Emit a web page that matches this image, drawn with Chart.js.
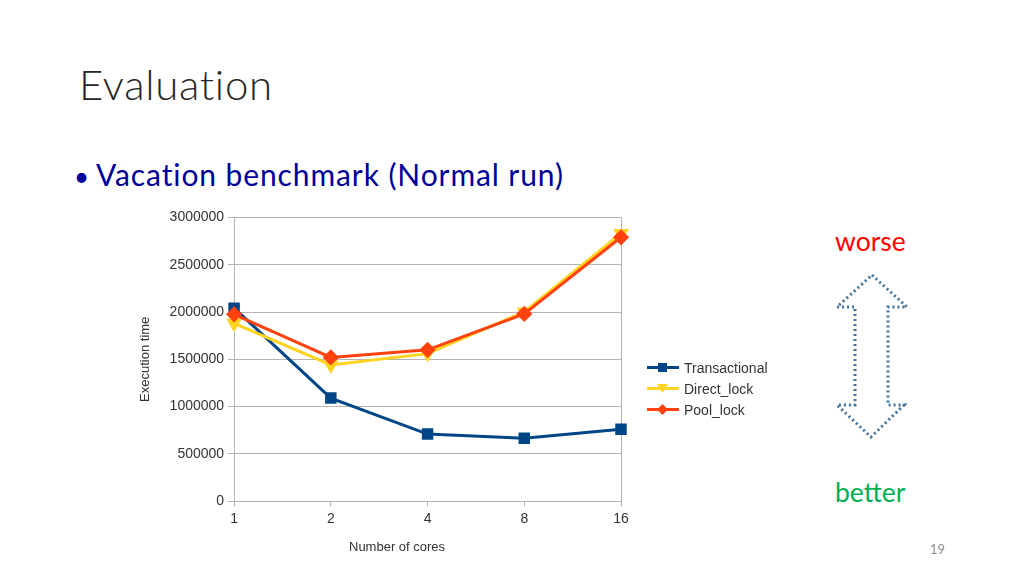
<!DOCTYPE html>
<html>
<head>
<meta charset="utf-8">
<script src="https://cdn.jsdelivr.net/npm/chart.js@4"></script>
<style>
  html, body { margin:0; padding:0; background:#fff; }
  body { width:1024px; height:576px; position:relative; overflow:hidden; font-family:'Lato','Open Sans',sans-serif; }
  #title { position:absolute; left:79px; top:59px; font-size:42px; font-weight:300; color:#262626; letter-spacing:0.7px; }
  #bullet { position:absolute; left:74px; top:156px; font-size:30px; color:#000099; letter-spacing:0.9px; }
  #bullet .dot { margin-right:6px; font-size:26px; }
  #chartBox { position:absolute; left:130px; top:205px; width:520px; height:355px; }
  #xTitle { position:absolute; left:349px; top:539px; font-family:'Liberation Sans',Arial,sans-serif; font-size:13px; color:#333; }
  #legend { position:absolute; left:646px; top:357px; font-family:'Liberation Sans',Arial,sans-serif; font-size:14px; color:#333; }
  #legend .row { height:21px; display:flex; align-items:center; }
  #legend svg { margin-right:4px; }
  #worse { position:absolute; left:835px; top:225px; font-size:26.5px; color:#ff0000; }
  #better { position:absolute; left:835px; top:476px; font-size:26.5px; color:#00b050; }
  #page { position:absolute; left:930px; top:541px; font-size:13px; color:#8c8c8c; }
  #arrow { position:absolute; left:0; top:0; }
</style>
</head>
<body>
<div id="title">Evaluation</div>
<div id="bullet"><span class="dot">•</span>Vacation benchmark (Normal run)</div>
<div id="chartBox"><canvas id="chart"></canvas></div>
<div id="xTitle">Number of cores</div>
<div id="legend"></div>
<div id="worse">worse</div>
<div id="better">better</div>
<div id="page">19</div>
<svg id="arrow" width="1024" height="576">
  <polygon points="872,275 907,307 888,307 888,405 904,405 871,437 837,405 855,405 855,307 837,307"
    fill="none" stroke="#41719c" stroke-width="3" stroke-dasharray="2 3"/>
</svg>
<script>
/* ====== データ ====== */
const categories = ['1', '2', '4', '8', '16'];
const transactional = [2040000, 1090000, 710000, 665000, 760000];
const directLock = [1880000, 1440000, 1560000, 2000000, 2830000];
const poolLock = [1975000, 1520000, 1600000, 1980000, 2790000];
const yTicks = [0, 500000, 1000000, 1500000, 2000000, 2500000, 3000000];

const seriesDefs = [
  { label:'Transactional', data:transactional, color:'#004586', pointStyle:'rect', rotation:0, radius:6, order:2 },
  { label:'Direct_lock', data:directLock, color:'#ffd320', pointStyle:'triangle', rotation:180, radius:6, order:1 },
  { label:'Pool_lock', data:poolLock, color:'#ff420e', pointStyle:'rectRot', rotation:0, radius:6, order:0 }
];

Chart.defaults.font.family = "'Liberation Sans', Arial, sans-serif";
Chart.defaults.font.size = 13;
Chart.defaults.color = '#333';

new Chart(document.getElementById('chart').getContext('2d'), {
  type:'line',
  data:{
    labels:categories,
    datasets:seriesDefs.map(s=>({
      label:s.label, data:s.data, order:s.order,
      borderColor:s.color, backgroundColor:s.color,
      borderWidth:3, pointStyle:s.pointStyle, rotation:s.rotation,
      pointRadius:s.radius, pointHoverRadius:s.radius, tension:0
    }))
  },
  options:{
    responsive:true, maintainAspectRatio:false, animation:false,
    layout:{ padding:{ top:4, right:29, left:4, bottom:27 } },
    plugins:{ legend:{ display:false }, tooltip:{ enabled:false } },
    scales:{
      x:{
        type:'category', offset:false,
        grid:{
          color:(c)=> (c.index === categories.length-1) ? '#b3b3b3' : 'rgba(0,0,0,0)',
          tickColor:'#b3b3b3', tickLength:5, drawOnChartArea:true
        },
        border:{ color:'#b3b3b3' },
        ticks:{ font:{ size:14 }, color:'#333', padding:5 },
        title:{ display:false }
      },
      y:{
        min:0, max:3000000,
        afterBuildTicks:(axis)=>{ axis.ticks = yTicks.map(v=>({ value:v })); },
        grid:{ color:'#b3b3b3', tickColor:'#b3b3b3', tickLength:6 },
        border:{ color:'#b3b3b3' },
        ticks:{ font:{ size:14 }, color:'#333', padding:4, callback:v=>String(v) },
        title:{ display:true, text:'Execution time', font:{ size:13 }, color:'#333', padding:{ bottom:12 } }
      }
    }
  }
});

/* ====== 凡例（HTML） ====== */
const legend = document.getElementById('legend');
seriesDefs.forEach(s=>{
  const row = document.createElement('div'); row.className = 'row';
  let marker;
  if (s.pointStyle === 'rect') marker = `<rect x="12" y="3" width="9" height="9" fill="${s.color}"/>`;
  else if (s.pointStyle === 'rectRot') marker = `<polygon points="16.5,2 22,7.5 16.5,13 11,7.5" fill="${s.color}"/>`;
  else marker = `<polygon points="11,3 22,3 16.5,12" fill="${s.color}"/>`;
  row.innerHTML = `<svg width="34" height="15"><line x1="1" y1="7.5" x2="33" y2="7.5" stroke="${s.color}" stroke-width="3"/>${marker}</svg><span>${s.label}</span>`;
  legend.appendChild(row);
});
</script>
</body>
</html>
